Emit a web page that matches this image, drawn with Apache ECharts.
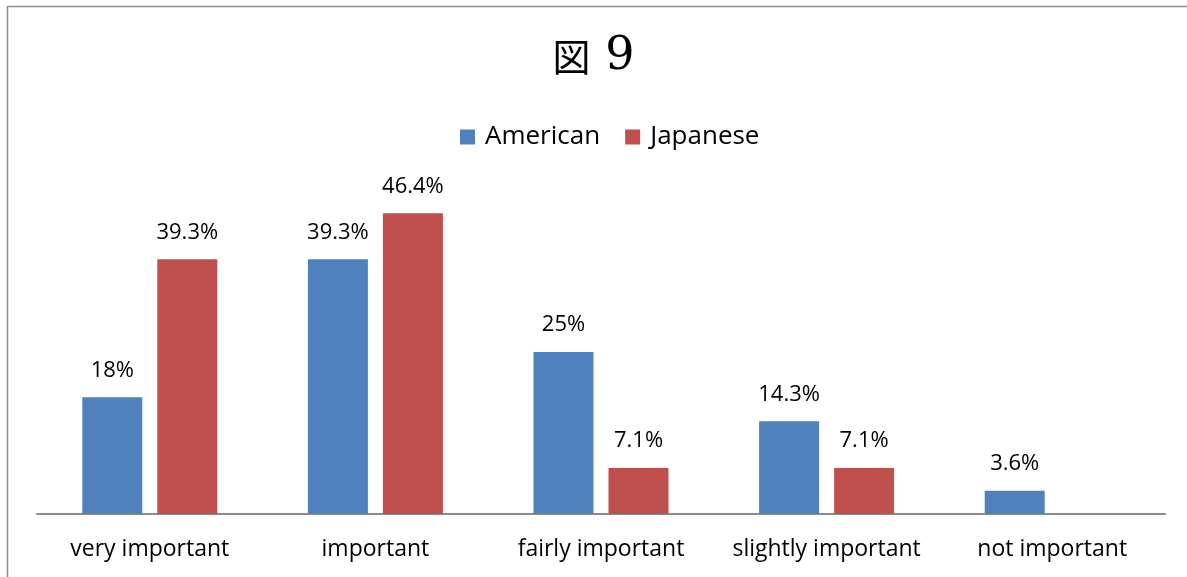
<!DOCTYPE html>
<html><head><meta charset="utf-8">
<script src="https://cdn.jsdelivr.net/npm/echarts@6/dist/echarts.min.js"></script>
<style>html,body{margin:0;padding:0;background:#fff}#c{width:1187px;height:577px}</style>
</head><body><div id="c"></div>
<script>
const categories = ["very important","important","fairly important","slightly important","not important"];
const american = [18, 39.3, 25, 14.3, 3.6];
const japanese = [39.3, 46.4, 7.1, 7.1, null];
const americanLabels = ["18%","39.3%","25%","14.3%","3.6%"];
const japaneseLabels = ["39.3%","46.4%","7.1%","7.1%",""];
const chart = echarts.init(document.getElementById('c'));
const font = '"Open Sans", sans-serif';
chart.setOption({
  animation:false,
  backgroundColor:'#fff',
  graphic:[{type:'rect',shape:{x:7.5,y:6.5,width:1190,height:600},style:{fill:'none',stroke:'#8c8c8c',lineWidth:1.5},silent:true}],
  title:{text:'{a|図}{b| 9}',left:'center',top:27,textStyle:{fontWeight:'normal',rich:{
    a:{fontFamily:'"Noto Sans CJK JP"',fontSize:38,fontWeight:'normal',color:'#000',lineHeight:50,verticalAlign:'middle'},
    b:{fontFamily:'"DejaVu Serif"',fontSize:46,fontWeight:'normal',color:'#000',lineHeight:50,verticalAlign:'middle'}}}},
  legend:{top:119,left:455,itemWidth:15,itemHeight:15,itemGap:25,icon:'rect',
    textStyle:{fontFamily:font,fontSize:26,color:'#000',padding:[0,0,0,5]},data:['American','Japanese']},
  grid:{left:37,right:22,top:190,bottom:63},
  xAxis:{type:'category',data:categories,axisTick:{show:false},
    axisLine:{lineStyle:{color:'#8c8c8c',width:2}},
    axisLabel:{interval:0,fontFamily:font,fontSize:23,color:'#000',margin:24}},
  yAxis:{type:'value',min:0,max:50,show:false,splitLine:{show:false}},
  series:[
    {name:'American',type:'bar',data:american,barWidth:60,barGap:'25%',itemStyle:{color:'#4f81bd'},
     label:{show:true,position:'top',distance:16,fontFamily:font,fontSize:22,color:'#000',formatter:p=>americanLabels[p.dataIndex]}},
    {name:'Japanese',type:'bar',data:japanese,barWidth:60,barGap:'25%',itemStyle:{color:'#c0504d'},
     label:{show:true,position:'top',distance:16,fontFamily:font,fontSize:22,color:'#000',formatter:p=>japaneseLabels[p.dataIndex]}}
  ]
});
</script></body></html>
